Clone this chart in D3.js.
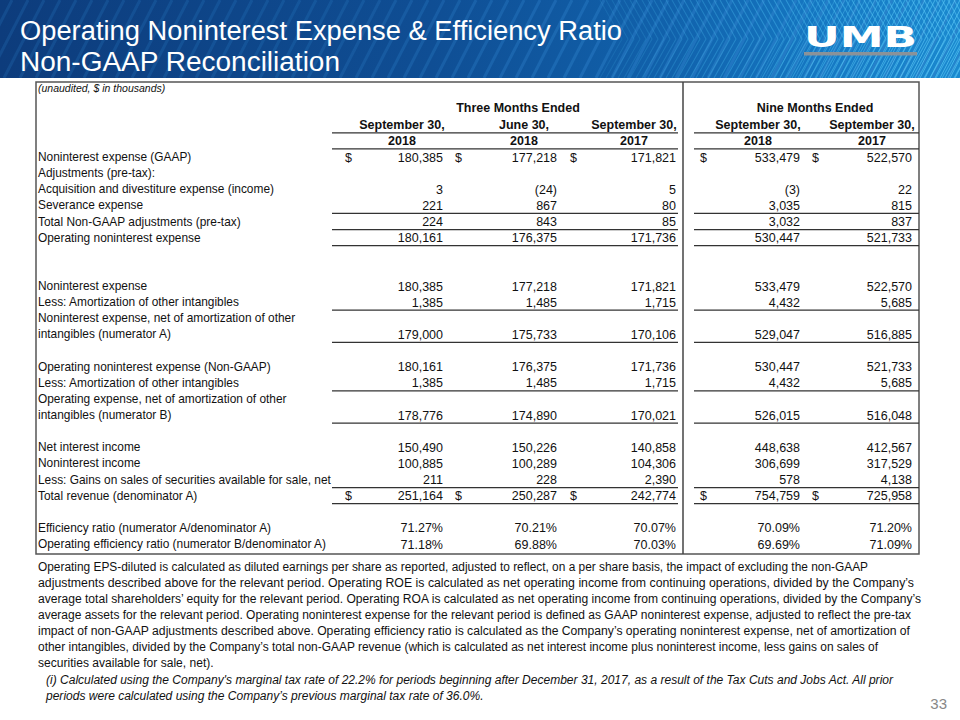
<!DOCTYPE html>
<html><head><meta charset="utf-8">
<script src="https://cdn.jsdelivr.net/npm/d3@7/dist/d3.min.js"></script>
<style>
html,body{margin:0;padding:0;background:#fff;}
svg{display:block;}
</style></head>
<body>
<script>
// ---------- DATA ----------
const titleLines = ["Operating Noninterest Expense & Efficiency Ratio", "Non-GAAP Reconciliation"];
const unitNote = "(unaudited, $ in thousands)";
const periodGroups = ["Three Months Ended", "Nine Months Ended"];
const columnDates = ["September 30,", "June 30,", "September 30,", "September 30,", "September 30,"];
const columnYears = ["2018", "2018", "2017", "2018", "2017"];
const rowLabels = [
  "Noninterest expense (GAAP)",
  "Adjustments (pre-tax):",
  "Acquisition and divestiture expense (income)",
  "Severance expense",
  "Total Non-GAAP adjustments (pre-tax)",
  "Operating noninterest expense",
  "", "",
  "Noninterest expense",
  "Less: Amortization of other intangibles",
  "Noninterest expense, net of amortization of other",
  "intangibles (numerator A)",
  "",
  "Operating noninterest expense (Non-GAAP)",
  "Less: Amortization of other intangibles",
  "Operating expense, net of amortization of other",
  "intangibles (numerator B)",
  "",
  "Net interest income",
  "Noninterest income",
  "Less: Gains on sales of securities available for sale, net",
  "Total revenue (denominator A)",
  "",
  "Efficiency ratio (numerator A/denominator A)",
  "Operating efficiency ratio (numerator B/denominator A)"
];
const noninterestExpenseGAAP = [180385, 177218, 171821, 533479, 522570];
const acquisitionExpense = [3, -24, 5, -3, 22];
const severanceExpense = [221, 867, 80, 3035, 815];
const totalNonGaapAdjustments = [224, 843, 85, 3032, 837];
const operatingNoninterestExpense = [180161, 176375, 171736, 530447, 521733];
const amortizationIntangibles = [1385, 1485, 1715, 4432, 5685];
const numeratorA = [179000, 175733, 170106, 529047, 516885];
const numeratorB = [178776, 174890, 170021, 526015, 516048];
const netInterestIncome = [150490, 150226, 140858, 448638, 412567];
const noninterestIncome = [100885, 100289, 104306, 306699, 317529];
const securitiesGains = [211, 228, 2390, 578, 4138];
const totalRevenue = [251164, 250287, 242774, 754759, 725958];
const efficiencyRatio = [71.27, 70.21, 70.07, 70.09, 71.20];
const operatingEfficiencyRatio = [71.18, 69.88, 70.03, 69.69, 71.09];
// which label row each value series sits on
const valueRows = [
  {row: 0, values: noninterestExpenseGAAP, dollar: true},
  {row: 2, values: acquisitionExpense},
  {row: 3, values: severanceExpense},
  {row: 4, values: totalNonGaapAdjustments},
  {row: 5, values: operatingNoninterestExpense},
  {row: 8, values: noninterestExpenseGAAP},
  {row: 9, values: amortizationIntangibles},
  {row: 11, values: numeratorA},
  {row: 13, values: operatingNoninterestExpense},
  {row: 14, values: amortizationIntangibles},
  {row: 16, values: numeratorB},
  {row: 18, values: netInterestIncome},
  {row: 19, values: noninterestIncome},
  {row: 20, values: securitiesGains},
  {row: 21, values: totalRevenue, dollar: true},
  {row: 23, values: efficiencyRatio, pct: true},
  {row: 24, values: operatingEfficiencyRatio, pct: true}
];
// rows above which a rule is drawn (-1 = the year header row)
const ruleRows = [-1, 0, 4, 5, 6, 10, 12, 15, 17, 21, 22];
const noteLines = [
  "Operating EPS-diluted is calculated as diluted earnings per share as reported, adjusted to reflect, on a per share basis, the impact of excluding the non-GAAP",
  "adjustments described above for the relevant period. Operating ROE is calculated as net operating income from continuing operations, divided by the Company\u2019s",
  "average total shareholders\u2019 equity for the relevant period. Operating ROA is calculated as net operating income from continuing operations, divided by the Company\u2019s",
  "average assets for the relevant period. Operating noninterest expense for the relevant period is defined as GAAP noninterest expense, adjusted to reflect the pre-tax",
  "impact of non-GAAP adjustments described above. Operating efficiency ratio is calculated as the Company\u2019s operating noninterest expense, net of amortization of",
  "other intangibles, divided by the Company\u2019s total non-GAAP revenue (which is calculated as net interest income plus noninterest income, less gains on sales of",
  "securities available for sale, net)."
];
const footnoteLines = [
  "(i)  Calculated using the Company's marginal tax rate of 22.2% for periods beginning after December 31, 2017, as a result of the Tax Cuts and Jobs Act.  All prior",
  "periods were calculated using the Company\u2019s previous marginal tax rate of 36.0%."
];
const pageNumber = "33";

// ---------- LAYOUT ----------
const W = 960, H = 720;
const svg = d3.select("body").append("svg").attr("width", W).attr("height", H);
const defs = svg.append("defs");
const SANS = "'Liberation Sans', Arial, sans-serif";
const NARROW = "'Liberation Sans Narrow', 'Arial Narrow', 'Liberation Sans', Arial, sans-serif";

function fit(sel, w) {
  sel.each(function() {
    const len = this.getComputedTextLength();
    if (Math.abs(len - w) > 1) d3.select(this).attr("textLength", w).attr("lengthAdjust", "spacingAndGlyphs");
  });
}
function fitGroup(sel, targets) {
  // fit lines with known targets; lines without target use the mean ratio
  const ratios = [];
  sel.each(function(d, i) { if (targets[i] != null) ratios.push(targets[i] / this.getComputedTextLength()); });
  const mean = d3.mean(ratios);
  sel.each(function(d, i) {
    const len = this.getComputedTextLength();
    const w = targets[i] != null ? targets[i] : len * mean;
    d3.select(this).attr("textLength", w).attr("lengthAdjust", "spacingAndGlyphs");
  });
}

// Header band
const grad = defs.append("linearGradient").attr("id", "bandGrad").attr("x1", 0).attr("x2", 1).attr("y1", 0).attr("y2", 0);
[[0, "#0d3c7c"], [0.45, "#0f4e94"], [0.7, "#1162ac"], [0.85, "#1577c2"], [1, "#1a89cf"]].forEach(s =>
  grad.append("stop").attr("offset", s[0]).attr("stop-color", s[1]));
defs.append("clipPath").attr("id", "bandClip").append("rect").attr("width", W).attr("height", 78);
const band = svg.append("g").attr("clip-path", "url(#bandClip)");
band.append("rect").attr("width", W).attr("height", 78).attr("fill", "url(#bandGrad)");
const stripeX = d3.range(-60, 1000, 16);
band.selectAll("line.wide").data(stripeX).join("line").attr("class", "wide")
  .attr("x1", d => d).attr("y1", 78).attr("x2", d => d + 40).attr("y2", 0)
  .attr("stroke", "#2f82cc").attr("stroke-width", 3)
  .attr("stroke-opacity", d => 0.22 + 0.35 * Math.max(0, Math.min(1, (d - 300) / 500)));
const chevX = d3.range(600, 980, 6);
band.selectAll("path.chev").data(chevX).join("path").attr("class", "chev")
  .attr("d", d => `M${d},0 L${d + 22},39 L${d},78`)
  .attr("fill", "none").attr("stroke", "#48b8ec").attr("stroke-width", 1.1)
  .attr("stroke-opacity", d => 0.15 + 0.55 * Math.max(0, Math.min(1, (d - 600) / 300)));
const slashX = d3.range(760, 1000, 5);
band.selectAll("line.thin").data(slashX).join("line").attr("class", "thin")
  .attr("x1", d => d).attr("y1", 78).attr("x2", d => d + 40).attr("y2", 0)
  .attr("stroke", "#5cc8f5").attr("stroke-width", 1)
  .attr("stroke-opacity", d => 0.2 + 0.5 * Math.max(0, Math.min(1, (d - 760) / 150)));

// Title
svg.selectAll("text.title").data(titleLines).join("text").attr("class", "title")
  .attr("x", 20).attr("y", (d, i) => 40 + i * 31)
  .attr("font-family", NARROW).attr("font-size", 27).attr("fill", "#fff").text(d => d)
  .each(function(d, i) { fit(d3.select(this), i === 0 ? 602 : 320); });

// Logo
svg.append("text").attr("x", 804).attr("y", 47).attr("font-family", "'DejaVu Sans', sans-serif")
  .attr("font-weight", 900).attr("font-size", 28).attr("fill", "#fff").text("UMB")
  .call(s => fit(s, 113));
svg.append("rect").attr("x", 804).attr("y", 52).attr("width", 113).attr("height", 3.5).attr("fill", "#8a9299");

// ---------- TABLE ----------
const tableLeft = 36, tableRight = 919, tableTop = 82, tableBottom = 554, divider = 683;
const y = d3.scaleLinear().domain([0, 24]).range([157, 544]);
const step = y(1) - y(0);
const colIdx = d3.range(5);
const valueRight = d3.scaleOrdinal().domain(colIdx).range([443, 557, 676, 800, 912]);
const dollarX = d3.scaleOrdinal().domain(colIdx).range([345, 455, 570, 700, 812]);
const headerCenter = d3.scaleOrdinal().domain(colIdx).range([402, 524, 634, 758, 872]);
const groupCenter = d3.scaleOrdinal().domain([0, 1]).range([518, 815]);
const groupSpan = d3.scaleOrdinal().domain([0, 1]).range([[332, 678], [694, 919]]);

const T = svg.append("g");
T.append("rect").attr("x", tableLeft).attr("y", tableTop).attr("width", tableRight - tableLeft)
  .attr("height", tableBottom - tableTop).attr("fill", "#fff").attr("stroke", "#555").attr("stroke-width", 1.5);
T.append("line").attr("x1", divider).attr("x2", divider).attr("y1", tableTop).attr("y2", tableBottom)
  .attr("stroke", "#444").attr("stroke-width", 1.5);

T.append("text").attr("x", 38).attr("y", 92).attr("font-family", SANS).attr("font-style", "italic")
  .attr("font-size", 10.5).attr("fill", "#111").text(unitNote);

T.selectAll("text.group").data(periodGroups).join("text").attr("class", "group")
  .attr("x", (d, i) => groupCenter(i)).attr("y", y(-3) + 3.5)
  .attr("text-anchor", "middle").attr("font-family", SANS).attr("font-weight", "bold")
  .attr("font-size", 12.5).attr("fill", "#111").text(d => d);
T.selectAll("text.date").data(columnDates).join("text").attr("class", "date")
  .attr("x", (d, i) => headerCenter(i)).attr("y", y(-2) + 4.5)
  .attr("text-anchor", "middle").attr("font-family", SANS).attr("font-weight", "bold")
  .attr("font-size", 12.5).attr("fill", "#111").text(d => d);
T.selectAll("text.year").data(columnYears).join("text").attr("class", "year")
  .attr("x", (d, i) => headerCenter(i)).attr("y", y(-1) + 4.5)
  .attr("text-anchor", "middle").attr("font-family", SANS).attr("font-weight", "bold")
  .attr("font-size", 12.5).attr("fill", "#111").text(d => d);

const rules = [];
ruleRows.forEach(r => [0, 1].forEach(g => rules.push({r, g})));
T.selectAll("line.rule").data(rules).join("line").attr("class", "rule")
  .attr("x1", d => groupSpan(d.g)[0]).attr("x2", d => groupSpan(d.g)[1])
  .attr("y1", d => y(d.r) - step / 2).attr("y2", d => y(d.r) - step / 2)
  .attr("stroke", "#333").attr("stroke-width", 1.2);

T.selectAll("text.label").data(rowLabels).join("text").attr("class", "label")
  .attr("x", 38).attr("y", (d, i) => y(i) + 4)
  .attr("font-family", SANS).attr("font-size", 11.9).attr("fill", "#111").text(d => d);

const fmtNum = d3.format(",");
const cells = [];
valueRows.forEach(vr => vr.values.forEach((v, c) => cells.push({row: vr.row, col: c, v, pct: vr.pct, dollar: vr.dollar})));
T.selectAll("text.val").data(cells).join("text").attr("class", "val")
  .attr("x", d => valueRight(d.col)).attr("y", d => y(d.row) + 4.5)
  .attr("text-anchor", "end").attr("font-family", SANS).attr("font-size", 12.5).attr("fill", "#111")
  .text(d => d.pct ? d3.format(".2f")(d.v) + "%" : (d.v < 0 ? "(" + fmtNum(-d.v) + ")" : fmtNum(d.v)));
T.selectAll("text.dollar").data(cells.filter(d => d.dollar)).join("text").attr("class", "dollar")
  .attr("x", d => dollarX(d.col)).attr("y", d => y(d.row) + 4.5)
  .attr("font-family", SANS).attr("font-size", 12.5).attr("fill", "#111").text("$");

// ---------- NOTES ----------
const noteWidths = [830, 876, 883, 873, 872, 840, null];
svg.selectAll("text.note").data(noteLines).join("text").attr("class", "note")
  .attr("x", 38).attr("y", (d, i) => 571 + i * 16)
  .attr("font-family", NARROW).attr("font-size", 12.5).attr("fill", "#111").text(d => d)
  .call(s => fitGroup(s, noteWidths));
svg.selectAll("text.foot").data(footnoteLines).join("text").attr("class", "foot")
  .attr("x", 46).attr("y", (d, i) => 684 + i * 16)
  .attr("font-family", NARROW).attr("font-style", "italic").attr("font-size", 12.5).attr("fill", "#111").text(d => d)
  .call(s => fitGroup(s, [847, null]));
svg.append("text").attr("x", 947).attr("y", 709).attr("text-anchor", "end")
  .attr("font-family", NARROW).attr("font-size", 15).attr("fill", "#888").text(pageNumber);
</script>
</body></html>
